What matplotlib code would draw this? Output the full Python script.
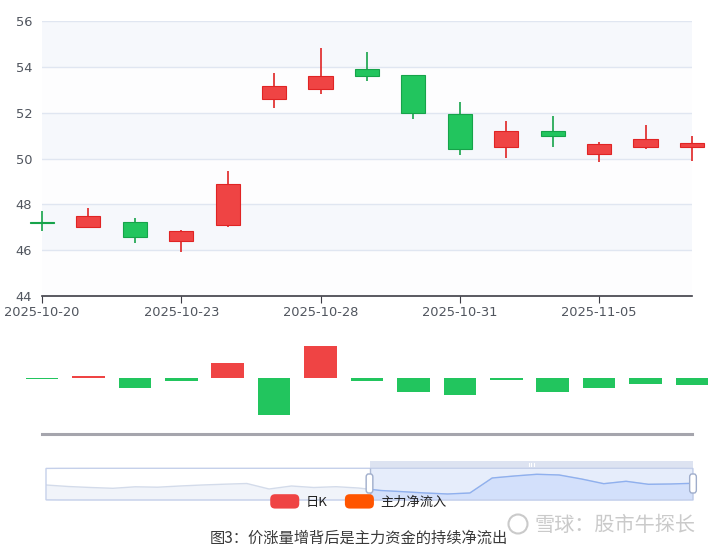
import numpy as np
import matplotlib
matplotlib.use("Agg")
import matplotlib.pyplot as plt
from matplotlib.patches import Rectangle, FancyBboxPatch, Patch, Ellipse
from matplotlib.legend_handler import HandlerPatch

plt.rcParams['font.family'] = ['DejaVu Sans', 'Noto Sans CJK SC']

dates = ["2025-10-20", "2025-10-21", "2025-10-22", "2025-10-23", "2025-10-24",
         "2025-10-27", "2025-10-28", "2025-10-29", "2025-10-30", "2025-10-31",
         "2025-11-03", "2025-11-04", "2025-11-05", "2025-11-06", "2025-11-07"]
opens  = [47.25, 47.03, 47.21, 46.41, 47.08, 52.58, 53.03, 53.89, 53.64, 51.94, 50.52, 51.19, 50.21, 50.50, 50.49]
closes = [47.18, 47.48, 46.56, 46.84, 48.89, 53.16, 53.61, 53.61, 52.00, 50.41, 51.20, 50.97, 50.65, 50.84, 50.68]
highs  = [47.72, 47.85, 47.40, 46.88, 49.45, 53.75, 54.81, 54.66, 53.64, 52.48, 51.62, 51.85, 50.71, 51.46, 50.98]
lows   = [46.84, 46.95, 46.33, 45.92, 47.01, 52.22, 52.83, 53.38, 51.71, 50.15, 50.01, 50.52, 49.86, 50.41, 49.91]

# 主力净流入 (亿)
net_inflow = [-0.03, 0.23, -0.93, -0.23, 1.53, -3.63, 3.23, -0.30, -1.33, -1.63, -0.13, -1.33, -0.93, -0.53, -0.63]

# dataZoom 背景缩略图
shadow = [15.0, 13.5, 12.5, 11.7, 13.2, 12.8, 14.0, 15.0, 15.8, 16.5, 11.0, 14.0, 12.5, 13.3, 12.0,
          9.5, 8.3, 7.0, 6.0, 7.0, 22.0, 24.0, 25.7, 25.0, 21.0, 16.3, 18.7, 15.7, 16.0, 16.7]
zoom_start, zoom_end = 50, 100

legend_names = ["日K", "主力净流入"]
caption = "图3：价涨量增背后是主力资金的持续净流出"
watermark = "雪球：股市牛探长"

RED, RED_E = "#ef4444", "#e02424"
GREEN, GREEN_E = "#22c55e", "#16a34a"

W, H = 719, 551
fig = plt.figure(figsize=(W / 100, H / 100), dpi=100)

def box(l, t, r, b):
    return [l / W, 1 - b / H, (r - l) / W, (b - t) / H]

# ---- K line ----
ax = fig.add_axes(box(42, 21, 692, 296))
x = np.arange(len(dates))
ax.set_xlim(0, len(dates) - 1)
ax.set_ylim(44, 56)
for i, lo in enumerate(range(44, 56, 2)):
    ax.axhspan(lo, lo + 2, color="#f6f8fc" if i % 2 else "#fdfdfe", zorder=0, lw=0)
for v in range(46, 57, 2):
    ax.axhline(v, color="#e0e6f1", lw=1, zorder=1)
for i in x:
    up = closes[i] >= opens[i]
    fc, ec = (RED, RED_E) if up else (GREEN, GREEN_E)
    ax.vlines(i, lows[i], highs[i], color=ec, lw=1.2, zorder=2, clip_on=False)
    bot = min(opens[i], closes[i])
    h = max(abs(closes[i] - opens[i]), 0.07)
    ax.add_patch(Rectangle((i - 0.26, bot), 0.52, h, facecolor=fc, edgecolor=ec,
                           lw=0.8, zorder=3, clip_on=False))
for s in ["top", "right", "left"]:
    ax.spines[s].set_visible(False)
ax.spines["bottom"].set_color("#3d3d46")
ax.spines["bottom"].set_linewidth(1.2)
ax.set_xticks(x[::3])
ax.set_xticklabels(dates[::3])
ax.set_yticks(range(44, 57, 2))
ax.tick_params(axis="x", length=5, color="#3d3d46", labelsize=9.4, labelcolor="#50555e", pad=2)
ax.tick_params(axis="y", length=0, labelsize=9.4, labelcolor="#50555e", pad=7)

# ---- 主力净流入 ----
bx = fig.add_axes(box(42, 322.6, 692, 434))
bx.set_xlim(0, len(dates) - 1)
bx.set_ylim(-5.57, 5.57)
cols = [RED if v > 0 else GREEN for v in net_inflow]
bx.bar(x, net_inflow, width=0.7, color=cols, clip_on=False, zorder=2)
for s in ["top", "right", "left"]:
    bx.spines[s].set_visible(False)
bx.spines["bottom"].set_color("#a5a5ad")
bx.spines["bottom"].set_linewidth(2.2)
bx.set_xticks([])
bx.set_yticks([])
bx.patch.set_alpha(0)

# ---- dataZoom slider ----
sx = fig.add_axes(box(46, 468.3, 693, 500))
n = len(shadow)
sx.set_xlim(0, n - 1)
sx.set_ylim(0, 31.7)
sx.axis("off")
sx.add_patch(FancyBboxPatch((0, 0), 1, 1, boxstyle="round,pad=0,rounding_size=0.08",
                            transform=sx.transAxes, facecolor="none", edgecolor="#c5d0ea",
                            lw=1, clip_on=False, zorder=5,
                            mutation_aspect=(500 - 468.3) / (693 - 46)))
xs = np.arange(n)
sx.fill_between(xs, 0, shadow, color="#f1f4fa", lw=0, zorder=1)
sx.plot(xs, shadow, color="#d3dbea", lw=1, zorder=2)
a = (n - 1) * zoom_start / 100
b = (n - 1) * zoom_end / 100
sel = Rectangle((a, 0), b - a, 31.7, facecolor="#e6edfb", edgecolor="none", zorder=0.5)
sx.add_patch(sel)
clip = Rectangle((a, 0), b - a, 31.7, transform=sx.transData, visible=False)
sx.add_patch(clip)
f = sx.fill_between(xs, 0, shadow, color="#d3e0fb", lw=0, zorder=3)
f.set_clip_path(clip)
ln, = sx.plot(xs, shadow, color="#8fb0ef", lw=1, zorder=4)
ln.set_clip_path(clip)
sx.add_patch(Rectangle((a, 31.7), b - a, 7.3, facecolor="#dde3f1", edgecolor="none",
                       clip_on=False, zorder=3))
mid = (a + b) / 2
for d in (-0.12, 0, 0.12):
    sx.plot([mid + d, mid + d], [33.8, 36.6], color="white", lw=0.8, clip_on=False, zorder=4)
sx.vlines([a, b], 0, 31.7, color="#aebbd6", lw=1, zorder=5)
hw = 0.3
for hx in (a, b):
    sx.add_patch(FancyBboxPatch((hx - hw / 2, 7), hw, 19, boxstyle="round,pad=0,rounding_size=0.1",
                                facecolor="white", edgecolor="#9fadcb", lw=1, clip_on=False,
                                zorder=6, mutation_aspect=30))

# ---- legend (rounded handles) ----
def rounded(legend, orig_handle, xdescent, ydescent, width, height, fontsize):
    return FancyBboxPatch((-xdescent, -ydescent), width, height,
                          boxstyle="round,pad=0,rounding_size=3.5")

handles = [Patch(facecolor=RED, edgecolor="none"), Patch(facecolor="#ff5500", edgecolor="none")]
fig.legend(handles, legend_names, loc="center", bbox_to_anchor=(358.5 / W, 1 - 501.5 / H),
           ncol=2, frameon=False, handlelength=2.2, handleheight=1.3,
           handletextpad=0.5, columnspacing=1.3, labelcolor="#222222",
           prop={"family": ["Noto Sans CJK SC"], "size": 9.5},
           handler_map={Patch: HandlerPatch(patch_func=rounded)})

# ---- caption & watermark ----
fig.text(358.5 / W, 1 - 538 / H, caption, ha="center", va="center", fontsize=11,
         color="#3a3a3a", family=["Noto Sans CJK SC", "DejaVu Sans"])
fig.text(535 / W, 1 - 525 / H, watermark, ha="left", va="center", fontsize=14.5,
         color="#cacaca", family=["Noto Sans CJK SC", "DejaVu Sans"])
fig.add_artist(Ellipse((518 / W, 1 - 524 / H), 19 / W, 19 / H, transform=fig.transFigure,
                       facecolor="none", edgecolor="#cacaca", lw=1.5))

fig.savefig("out.png", dpi=100)
